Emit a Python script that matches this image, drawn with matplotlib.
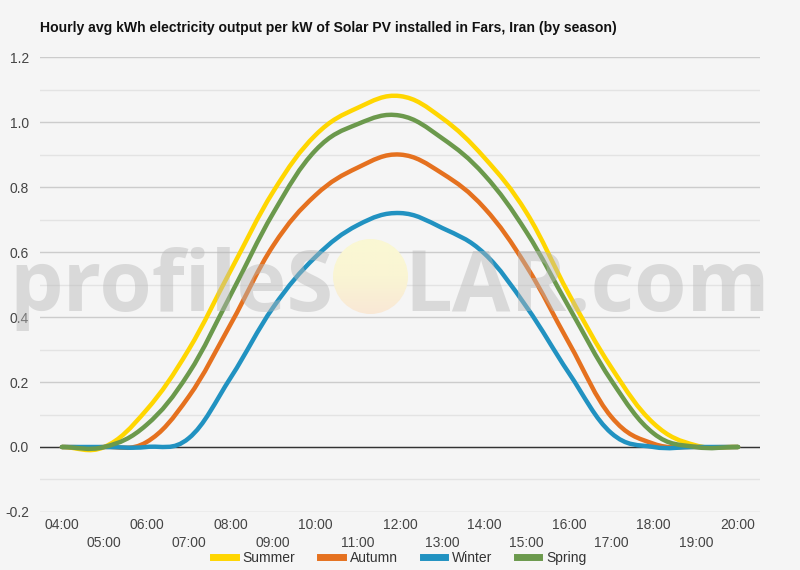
import matplotlib
matplotlib.use("Agg")
import matplotlib.pyplot as plt
import numpy as np
from matplotlib.path import Path
from matplotlib.patches import PathPatch, Circle
from matplotlib.lines import Line2D
from matplotlib.colors import LinearSegmentedColormap

plt.rcParams['font.family'] = ['Liberation Sans', 'DejaVu Sans']

hours = [4, 5, 6, 7, 8, 9, 10, 11, 12, 13, 14, 15, 16, 17, 18, 19, 20]
hour_labels = ["%02d:00" % h for h in hours]

summer = [0.0, 0.0, 0.114, 0.30, 0.545, 0.786, 0.96, 1.044, 1.08,
          1.012, 0.89, 0.72, 0.47, 0.245, 0.073, 0.005, 0.0]
autumn = [0.0, 0.0, 0.015, 0.155, 0.38, 0.62, 0.775, 0.86, 0.90,
          0.842, 0.735, 0.555, 0.32, 0.093, 0.01, 0.0, 0.0]
winter = [0.0, 0.0, 0.0, 0.027, 0.215, 0.43, 0.585, 0.683, 0.72,
          0.674, 0.595, 0.43, 0.227, 0.043, 0.0, 0.0, 0.0]
spring = [0.0, 0.0, 0.068, 0.227, 0.47, 0.72, 0.913, 0.994, 1.02,
          0.95, 0.837, 0.66, 0.43, 0.205, 0.042, 0.0, 0.0]

series = [("Summer", summer, "#ffd600"),
          ("Autumn", autumn, "#e5711f"),
          ("Winter", winter, "#2192c1"),
          ("Spring", spring, "#6b994c")]


def spline_path(x, y, k=0.38):
    # smooth bezier curve through the points (spline look)
    x = np.asarray(x, float)
    y = np.asarray(y, float)
    n = len(x)
    m = np.zeros(n)
    m[1:-1] = (y[2:] - y[:-2]) / (x[2:] - x[:-2])
    m[0] = (y[1] - y[0]) / (x[1] - x[0])
    m[-1] = (y[-1] - y[-2]) / (x[-1] - x[-2])
    verts = [(x[0], y[0])]
    codes = [Path.MOVETO]
    for i in range(n - 1):
        dx = (x[i + 1] - x[i]) * k
        verts += [(x[i] + dx, y[i] + m[i] * dx),
                  (x[i + 1] - dx, y[i + 1] - m[i + 1] * dx),
                  (x[i + 1], y[i + 1])]
        codes += [Path.CURVE4] * 3
    return Path(verts, codes)


fig = plt.figure(figsize=(8, 5.7), dpi=100, facecolor="#f5f5f5")
ax = fig.add_axes([0.05, 0.1018, 0.9, 0.798])
ax.set_facecolor("#f5f5f5")

ax.set_xlim(3.48, 20.52)
ax.set_ylim(-0.2, 1.2)

# grid
ax.set_yticks(np.arange(-0.2, 1.21, 0.2))
ax.set_yticklabels(["%.1f" % v for v in np.arange(-0.2, 1.21, 0.2)])
ax.set_yticks(np.arange(-0.1, 1.2, 0.2), minor=True)
ax.grid(axis="y", which="major", color="#cccccc", lw=1)
ax.grid(axis="y", which="minor", color="#e3e3e3", lw=1)
ax.axhline(0, color="#333333", lw=1, zorder=2)
for s in ax.spines.values():
    s.set_visible(False)

ax.set_xticks(hours[::2])
ax.set_xticklabels(hour_labels[::2])
ax.set_xticks(hours[1::2], minor=True)
ax.set_xticklabels(hour_labels[1::2], minor=True)
ax.tick_params(axis="both", which="both", length=0, labelcolor="#444444", labelsize=10)
ax.tick_params(axis="x", which="major", pad=4)
ax.tick_params(axis="x", which="minor", pad=17)
ax.tick_params(axis="y", pad=8)

handles = []
for name, vals, col in series:
    patch = PathPatch(spline_path(hours, vals), fill=False, edgecolor=col,
                      lw=3.2, capstyle="round", joinstyle="round", zorder=3)
    ax.add_patch(patch)
    handles.append(Line2D([], [], color=col, lw=5, label=name))

fig.text(40 / 800, 1 - 28 / 570,
         "Hourly avg kWh electricity output per kW of Solar PV installed in Fars, Iran (by season)",
         fontsize=10.1, fontweight="bold", color="#111111", va="center", ha="left")

fig.legend(handles=handles, loc="center", bbox_to_anchor=(0.5, 1 - 558 / 570),
           ncol=4, frameon=False, fontsize=10, handlelength=1.6,
           handletextpad=0.5, columnspacing=1.8, labelcolor="#333333")

# watermark
sun = fig.add_axes([333 / 800, 1 - 314 / 570, 75 / 800, 75 / 570], zorder=5)
sun.set_axis_off()
grad = np.linspace(0, 1, 100)[:, None] * np.ones((1, 2))
img = sun.imshow(grad, cmap=LinearSegmentedColormap.from_list(
    "sun", ["#faf8d4", "#faf5d3", "#f9e8d6"]), extent=[0, 1, 0, 1],
    origin="upper", aspect="auto")
sun.set_xlim(0, 1)
sun.set_ylim(0, 1)
img.set_clip_path(Circle((0.5, 0.5), 0.5, transform=sun.transAxes))

fig.text(334 / 800, 1 - 311 / 570, "profileS", fontsize=61, family="Open Sans",
         fontweight="bold", color="#b8b8b8", alpha=0.45, ha="right", va="baseline", zorder=6)
fig.text(404 / 800, 1 - 311 / 570, "LAR.com", fontsize=61, family="Open Sans",
         fontweight="bold", color="#b8b8b8", alpha=0.45, ha="left", va="baseline", zorder=6)

fig.savefig("out.png", dpi=100, facecolor=fig.get_facecolor())
